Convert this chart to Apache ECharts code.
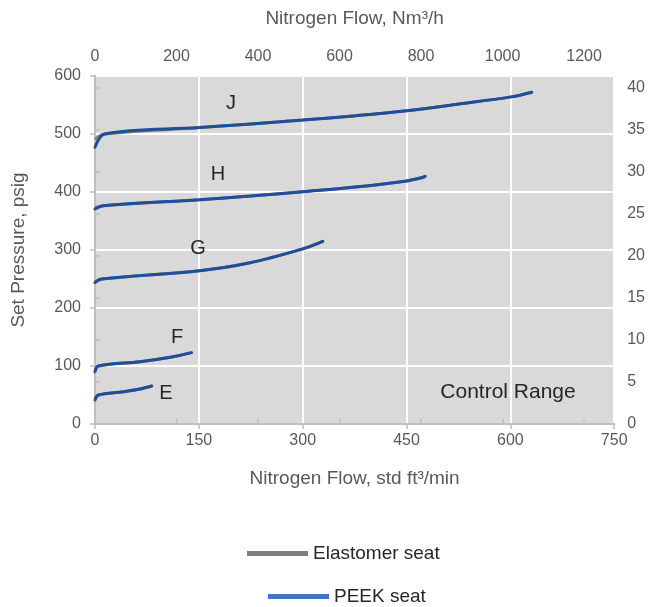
<!DOCTYPE html>
<html>
<head>
<meta charset="utf-8">
<script src="https://cdn.jsdelivr.net/npm/echarts@6/dist/echarts.min.js"></script>
<style>
html,body{margin:0;padding:0;background:#fff;}
#c{width:648px;height:607px;}
</style>
</head>
<body>
<div id="c"></div>
<script>
// Flow in std ft3/min, pressure in psig
const jFlow = [0, 14, 151, 300, 377, 450, 521, 601, 631];
const jPeek = [477, 500, 511, 524, 531.5, 540, 551, 564, 572];
const jElast = [491, 500, 511, 524, 531.5, 540, 551, 564, 572];

const hFlow = [0, 12, 151, 224, 300, 380, 450, 470, 477];
const hPeek = [370.7, 376.4, 386.7, 393, 400.5, 409, 419, 424, 427];
const hElast = [373, 376.4, 386.7, 393, 400.5, 409, 419, 424, 427];

const gFlow = [0, 9.6, 151, 224, 300, 329];
const gPeek = [244, 250, 264.3, 278, 302, 315];
const gElast = [245, 250, 264.3, 278, 302, 315];

const fFlow = [0, 4.8, 65, 113, 139.5];
const fPeek = [90, 100, 107.4, 116, 123];
const fElast = [91, 100, 107.4, 116, 123];

const eFlow = [0, 4.8, 41, 65, 82];
const ePeek = [41.4, 50, 55.7, 60.3, 65.5];
const eElast = [42.5, 50, 55.7, 60.3, 65.5];

const curveLabels = ['J', 'H', 'G', 'F', 'E'];
const bottomTicks = [0, 150, 300, 450, 600, 750];
const leftTicks = [0, 100, 200, 300, 400, 500, 600];
const topTicks = [0, 200, 400, 600, 800, 1000, 1200];
const rightTicks = [0, 5, 10, 15, 20, 25, 30, 35, 40];

const FONT = '"Liberation Sans", Arial, sans-serif';
const LBL = '#595959';
const AXL = '#bfbfbf';
const BLUE = '#1f4e9a';
const GRAY = '#7f7f7f';

function pairs(xs, ys){ return xs.map((x,i)=>[x, ys[i]]); }

const curves = [
  [jFlow, jPeek, jElast],
  [hFlow, hPeek, hElast],
  [gFlow, gPeek, gElast],
  [fFlow, fPeek, fElast],
  [eFlow, ePeek, eElast]
];

const series = [];
curves.forEach(c => {
  series.push({
    name: 'Elastomer seat', type: 'line', xAxisIndex: 0, yAxisIndex: 0,
    data: pairs(c[0], c[2]), showSymbol: false, smooth: 0.35,
    lineStyle: {color: GRAY, width: 3}, itemStyle: {color: GRAY}, z: 2
  });
});
curves.forEach(c => {
  series.push({
    name: 'PEEK seat', type: 'line', xAxisIndex: 0, yAxisIndex: 0,
    data: pairs(c[0], c[1]), showSymbol: false, smooth: 0.35,
    lineStyle: {color: BLUE, width: 3, cap: 'round'}, itemStyle: {color: '#4472c4'}, z: 3
  });
});

const labelPos = [[231,103],[218,174],[198,248],[177,337],[166,393]];

const chart = echarts.init(document.getElementById('c'), null, {renderer: 'canvas'});
chart.setOption({
  animation: false,
  textStyle: {fontFamily: FONT},
  grid: {left: 95, right: 33, top: 76, bottom: 183, show: true, backgroundColor: '#dad9d9', borderWidth: 0},
  xAxis: [
    {
      type: 'value', position: 'bottom', min: bottomTicks[0], max: bottomTicks[bottomTicks.length-1], interval: 150,
      name: 'Nitrogen Flow, std ft\u00b3/min', nameLocation: 'middle', nameGap: 45,
      nameTextStyle: {color: LBL, fontSize: 19, fontFamily: FONT},
      axisLine: {show: true, lineStyle: {color: AXL, width: 2}},
      axisTick: {show: true, length: 5, lineStyle: {color: AXL, width: 1.5}},
      axisLabel: {color: LBL, fontSize: 16, margin: 9, fontFamily: FONT},
      splitLine: {show: true, lineStyle: {color: '#ffffff', width: 2}}
    },
    {
      type: 'value', position: 'top', min: 0, max: 1274, interval: 200,
      name: 'Nitrogen Flow, Nm\u00b3/h', nameLocation: 'middle', nameGap: 48,
      nameTextStyle: {color: LBL, fontSize: 19, fontFamily: FONT},
      axisLine: {show: true, lineStyle: {color: AXL, width: 2}},
      axisTick: {show: true, length: 5, lineStyle: {color: AXL, width: 1.5}},
      axisLabel: {color: LBL, fontSize: 16, margin: 11, fontFamily: FONT, showMaxLabel: false,
        formatter: v => topTicks.includes(v) ? String(v) : ''},
      splitLine: {show: false}
    }
  ],
  yAxis: [
    {
      type: 'value', position: 'left', min: 0, max: 600, interval: 100,
      name: 'Set Pressure, psig', nameLocation: 'middle', nameGap: 67, nameRotate: 90,
      nameTextStyle: {color: LBL, fontSize: 19, fontFamily: FONT},
      axisLine: {show: true, lineStyle: {color: AXL, width: 2}},
      axisTick: {show: true, length: 5, lineStyle: {color: AXL, width: 1.5}},
      axisLabel: {color: LBL, fontSize: 16, margin: 14, fontFamily: FONT},
      splitLine: {show: true, lineStyle: {color: '#ffffff', width: 2}}
    },
    {
      type: 'value', position: 'right', min: 0, max: 41.37, interval: 5,
      axisLine: {show: true, lineStyle: {color: AXL, width: 2}},
      axisTick: {show: true, length: 5, lineStyle: {color: AXL, width: 1.5}},
      axisLabel: {color: LBL, fontSize: 16, margin: 13, fontFamily: FONT, showMaxLabel: false,
        formatter: v => rightTicks.includes(v) ? String(v) : ''},
      splitLine: {show: false}
    }
  ],
  legend: [
    {
      data: [{name: 'Elastomer seat', itemStyle: {color: GRAY}}],
      left: 247, top: 544, padding: 0, icon: 'rect', itemWidth: 61, itemHeight: 5, itemGap: 5,
      textStyle: {color: '#262626', fontSize: 19, fontFamily: FONT}, selectedMode: false
    },
    {
      data: [{name: 'PEEK seat', itemStyle: {color: '#4472c4'}}],
      left: 268, top: 587, padding: 0, icon: 'rect', itemWidth: 61, itemHeight: 5, itemGap: 5,
      textStyle: {color: '#262626', fontSize: 19, fontFamily: FONT}, selectedMode: false
    }
  ],
  graphic: curveLabels.map((t, i) => ({
    type: 'text', x: labelPos[i][0], y: labelPos[i][1], z: 10,
    style: {text: t, fill: '#262626', font: '20px ' + FONT, align: 'center', verticalAlign: 'middle'}
  })).concat([{
    type: 'text', x: 508, y: 392, z: 10,
    style: {text: 'Control Range', fill: '#262626', font: '21px ' + FONT, align: 'center', verticalAlign: 'middle'}
  }]),
  series: series
});
</script>
</body>
</html>
